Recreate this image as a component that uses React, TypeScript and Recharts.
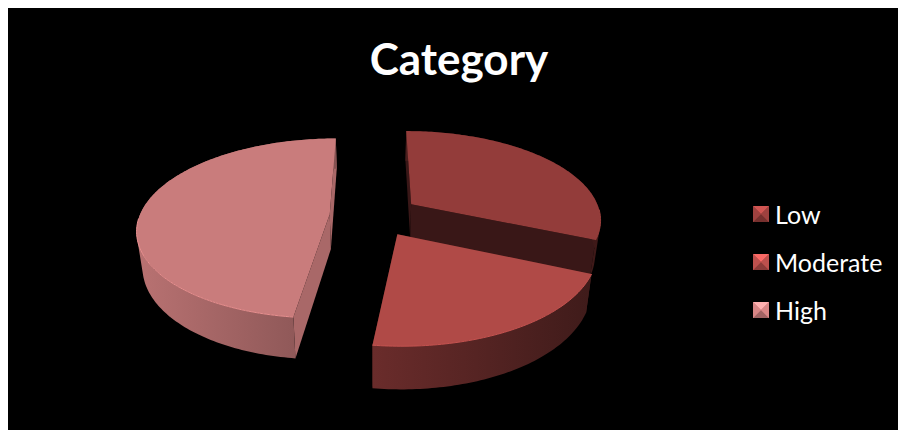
import React from 'react';
import { PieChart, Pie, Cell, Legend } from 'recharts';

const categories = ['Low', 'Moderate', 'High'];
const shares = [31.5, 20.5, 48];
const topColors = ['#933c3a', '#b04a47', '#c97c7c'];
const chartTitle = 'Category';

const rows = categories.map((name, i) => ({ name, value: shares[i] }));

// Brightness of the extruded faces relative to each slice's top colour.
const wallShades = [[0.5, 0.42], [0.6, 0.36], [0.92, 0.66]];
const cutShades = [0.39, 0.4, 0.84];
const rimShades = [1.06, 1.12, 1.15];

const TILT = 0.463;
const PERSPECTIVE = 0.157;
const EXPLODE = 0.236;
const DEPTH = 35;
const FLOOR_SCALE = 0.975;

const shade = (hex: string, f: number) => {
  const c = [1, 3, 5].map((p) => Math.min(255, Math.round(parseInt(hex.slice(p, p + 2), 16) * f)));
  return `rgb(${c[0]},${c[1]},${c[2]})`;
};

const toPath = (pts: number[][]) =>
  pts.map((p, i) => `${i ? 'L' : 'M'}${p[0].toFixed(2)} ${p[1].toFixed(2)}`).join('') + 'Z';

// Same winding for every quad, so overlapping wall pieces never cancel under nonzero fill.
const clockwise = (pts: number[][]) => {
  let area = 0;
  pts.forEach((p, i) => {
    const q = pts[(i + 1) % pts.length];
    area += p[0] * q[1] - q[0] * p[1];
  });
  return area < 0 ? [...pts].reverse() : pts;
};

// A pie slice in a tilted plane, pulled away from the centre and given a solid body.
function SolidSlice(props: any) {
  const { cx, cy, outerRadius, startAngle, endAngle, midAngle, fill, index } = props;
  const rad = Math.PI / 180;
  const mid = midAngle ?? (startAngle + endAngle) / 2;
  const ox = EXPLODE * Math.cos(mid * rad);
  const oy = -EXPLODE * Math.sin(mid * rad);

  const top = (u: number, v: number) => {
    const w = 1 - PERSPECTIVE * v;
    return [cx + (outerRadius * u) / w, cy + (outerRadius * TILT * v) / w];
  };
  const floor = (u: number, v: number) => {
    const w = 1 - PERSPECTIVE * v;
    const p = top(u, v);
    return [cx + (p[0] - cx) * FLOOR_SCALE, p[1] + DEPTH / w];
  };
  const steps = Math.max(2, Math.ceil(Math.abs(startAngle - endAngle)));
  const ring: number[][] = [];
  for (let s = 0; s <= steps; s++) {
    const a = (startAngle + ((endAngle - startAngle) * s) / steps) * rad;
    ring.push([ox + Math.cos(a), oy - Math.sin(a)]);
  }
  const apex = [ox, oy];
  const quadPts = (a: number[], b: number[]) =>
    clockwise([top(a[0], a[1]), top(b[0], b[1]), floor(b[0], b[1]), floor(a[0], a[1])]);
  const quad = (a: number[], b: number[]) => toPath(quadPts(a, b));

  const topOutline = [apex, ...ring].map((q) => top(q[0], q[1]));
  const wallPieces = ring.slice(1).map((q, i) => quad(ring[i], q)).join('');
  const xs = ring.flatMap((q) => [top(q[0], q[1])[0], floor(q[0], q[1])[0]]);
  const gradId = `wall-${index}`;
  const near = ring.filter((q) => q[1] - oy > 0.05).map((q) => top(q[0], q[1]));
  const cut = shade(fill, cutShades[index]);

  return (
    <g>
      <defs>
        <linearGradient
          id={gradId}
          gradientUnits="userSpaceOnUse"
          x1={Math.min(...xs)}
          x2={Math.max(...xs)}
          y1={0}
          y2={0}
        >
          <stop offset="0" stopColor={shade(fill, wallShades[index][0])} />
          <stop offset="1" stopColor={shade(fill, wallShades[index][1])} />
        </linearGradient>
      </defs>
      <path d={quad(apex, ring[0])} fill={cut} />
      <path d={quad(apex, ring[ring.length - 1])} fill={cut} />
      <path d={wallPieces} fill={`url(#${gradId})`} />
      <path d={toPath(topOutline)} fill={fill} />
      {near.length > 1 && (
        <path
          d={toPath(near).replace('Z', '')}
          fill="none"
          stroke={shade(fill, rimShades[index])}
          strokeWidth={1}
        />
      )}
    </g>
  );
}

// Bevelled square used as the legend key.
function BevelKey({ color }: { color: string }) {
  return (
    <svg width={16} height={16} style={{ display: 'block' }}>
      <rect width={16} height={16} fill={color} />
      <path d="M0 0L16 0L8 8Z" fill={shade(color, 1.42)} />
      <path d="M0 16L16 16L8 8Z" fill={shade(color, 0.8)} />
      <path d="M0 0L0 16L8 8Z" fill={shade(color, 1.08)} />
      <path d="M16 0L16 16L8 8Z" fill={shade(color, 1.08)} />
    </svg>
  );
}

function LegendList({ payload }: any) {
  return (
    <div>
      {(payload ?? []).map((entry: any) => (
        <div
          key={entry.value}
          style={{ display: 'flex', alignItems: 'center', height: 48, color: '#fff' }}
        >
          <BevelKey color={entry.color} />
          <span style={{ marginLeft: 6, fontFamily: 'Lato', fontSize: 25 }}>{entry.value}</span>
        </div>
      ))}
    </div>
  );
}

export default function App() {
  return (
    <div
      style={{
        position: 'absolute',
        left: 8,
        top: 8,
        width: 890,
        height: 422,
        background: '#000',
        overflow: 'hidden',
      }}
    >
      <PieChart
        width={890}
        height={422}
        margin={{ top: 0, right: 0, bottom: 0, left: 0 }}
      >
        <text
          x={451}
          y={67}
          textAnchor="middle"
          fill="#fff"
          fontFamily="Lato"
          fontWeight={700}
          fontSize={44}
        >
          {chartTitle}
        </text>
        <Pie
          data={rows}
          dataKey="value"
          nameKey="name"
          cx={366.4}
          cy={207.5}
          outerRadius={190}
          startAngle={90}
          endAngle={-270}
          paddingAngle={0}
          stroke="none"
          isAnimationActive={false}
          shape={SolidSlice}
        >
          {rows.map((row, i) => (
            <Cell key={row.name} fill={topColors[i]} />
          ))}
        </Pie>
        <Legend
          layout="vertical"
          align="right"
          verticalAlign="top"
          itemSorter={null}
          content={LegendList}
          wrapperStyle={{ left: 745, top: 182, width: 140, right: 'auto' }}
        />
      </PieChart>
    </div>
  );
}
